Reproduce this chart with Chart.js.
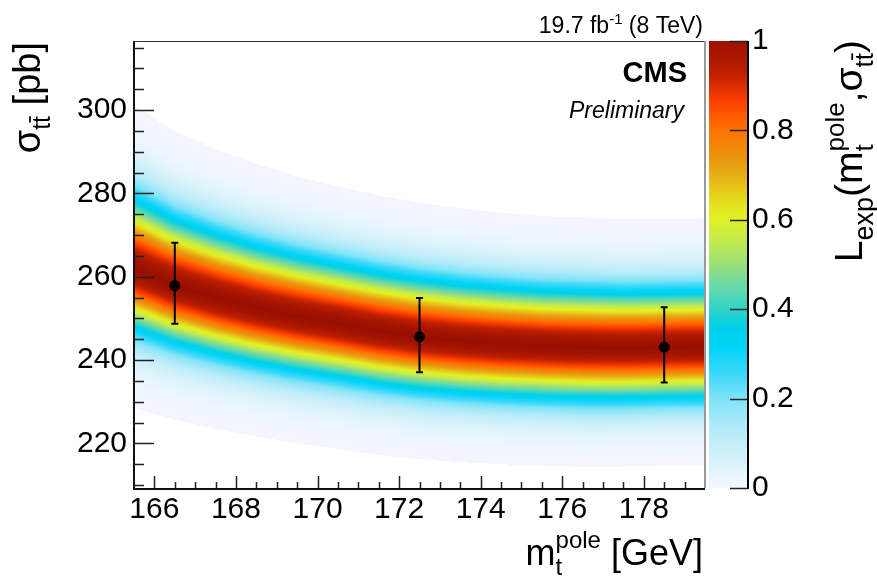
<!DOCTYPE html>
<html><head><meta charset="utf-8">
<script src="https://cdn.jsdelivr.net/npm/chart.js@4.4.0/dist/chart.umd.min.js"></script>
<style>html,body{margin:0;padding:0;background:#fff;}canvas{display:block;}</style>
</head><body>
<canvas id="c" width="877" height="577"></canvas>
<script>
// ---- measured points ----
const pointMt = [166.5, 172.5, 178.5];
const pointSigma = [257.9, 245.6, 243.1];
const pointErrUp = [10.3, 9.3, 9.6];
const pointErrDown = [9.2, 8.5, 8.5];

// ---- likelihood band (centre and upper/lower widths) ----
const bandMt = [165.5, 166.5, 167.5, 168.5, 169.5, 170.5, 171.5, 172.5, 173.5, 174.5, 175.5, 176.5, 177.5, 178.5, 179.5];
const bandCenter = [262.0, 257.9, 255.0, 252.5, 250.5, 248.8, 247.0, 245.6, 244.6, 243.9, 243.4, 243.1, 243.0, 243.1, 243.2];
const bandWidthUp = [11.3, 10.7, 10.3, 10.0, 9.7, 9.5, 9.4, 9.3, 9.2, 9.1, 9.0, 9.0, 8.9, 8.9, 8.9];
const bandWidthDown = [9.7, 9.3, 9.1, 8.9, 8.8, 8.7, 8.6, 8.5, 8.4, 8.35, 8.3, 8.3, 8.25, 8.2, 8.2];
const bandCut = 0.0025;

// ---- axes ----
const xRange = [165.5, 179.5];
const yRange = [209.3, 316.6];
const xMajorTicks = [166, 168, 170, 172, 174, 176, 178];
const yMajorTicks = [220, 240, 260, 280, 300];
const zTicks = [0, 0.2, 0.4, 0.6, 0.8, 1];
const zTickLabels = ['0', '0.2', '0.4', '0.6', '0.8', '1'];

// ---- palette ----
const palStops = [0, 0.02, 0.05, 0.1, 0.14, 0.2, 0.25, 0.315, 0.36, 0.4, 0.443, 0.5, 0.55, 0.6, 0.626, 0.678, 0.73, 0.805, 0.864, 0.924, 1.0];
const palColors = ['#f6f5ff','#ebf6fe','#dcf3fb','#c4eef9','#aeeaf8','#80e4f8','#40d8f8','#00d4f8','#00d0e8','#30d4c8','#60d8b0','#98e078','#c0ec50','#e0f028','#e4e820','#e8c018','#e89a10','#ff7000','#ff4000','#c02000','#9a1000'];
const palRGB = palColors.map(h => [parseInt(h.slice(1,3),16), parseInt(h.slice(3,5),16), parseInt(h.slice(5,7),16)]);
function palette(v) {
  if (v <= 0) return palRGB[0];
  if (v >= 1) return palRGB[palRGB.length-1];
  let i = 0;
  while (i < palStops.length - 2 && v > palStops[i+1]) i++;
  const t = (v - palStops[i]) / (palStops[i+1] - palStops[i]);
  const a = palRGB[i], b = palRGB[i+1];
  return [a[0]+(b[0]-a[0])*t, a[1]+(b[1]-a[1])*t, a[2]+(b[2]-a[2])*t];
}
function lookup(arr, m) {
  if (m <= bandMt[0]) return arr[0];
  const n = bandMt.length;
  if (m >= bandMt[n-1]) return arr[n-1];
  let i = 0;
  while (i < n - 2 && m > bandMt[i+1]) i++;
  const t = (m - bandMt[i]) / (bandMt[i+1] - bandMt[i]);
  return arr[i] + (arr[i+1] - arr[i]) * t;
}

const FONT = '"Liberation Sans", Arial, Helvetica, sans-serif';
function font(size, bold, italic) { return (italic ? 'italic ' : '') + (bold ? 'bold ' : '') + size + 'px ' + FONT; }

function segWidth(ctx, s) {
  if (s.stack) {
    ctx.font = font(s.sub.size); const a = ctx.measureText(s.sub.t).width;
    ctx.font = font(s.sup.size); const b = ctx.measureText(s.sup.t).width;
    return Math.max(a, b);
  }
  ctx.font = font(s.size, s.bold, s.italic);
  return ctx.measureText(s.t).width;
}
function drawSeg(ctx, s, cx) {
  if (s.stack) { drawSeg(ctx, s.sub, cx); drawSeg(ctx, s.sup, cx); return; }
  ctx.font = font(s.size, s.bold, s.italic);
  const dy = s.dy || 0;
  ctx.fillText(s.t, cx, dy);
  if (s.bar) {
    const w = ctx.measureText(s.t).width;
    ctx.beginPath();
    ctx.lineWidth = Math.max(1, s.size * 0.07);
    ctx.moveTo(cx + w * 0.05, dy - s.size * 0.8);
    ctx.lineTo(cx + w * 0.95, dy - s.size * 0.8);
    ctx.stroke();
  }
}
function drawRich(ctx, segs, x, y, align, rot) {
  ctx.save();
  ctx.translate(x, y);
  if (rot) ctx.rotate(-Math.PI / 2);
  ctx.fillStyle = '#000'; ctx.strokeStyle = '#000';
  ctx.textBaseline = 'alphabetic'; ctx.textAlign = 'left';
  const ws = segs.map(s => segWidth(ctx, s));
  const total = ws.reduce((a, b) => a + b, 0);
  let cx = align === 'right' ? -total : 0;
  segs.forEach((s, i) => { drawSeg(ctx, s, cx); cx += ws[i]; });
  ctx.restore();
}

let heatCache = null;
const heatPlugin = {
  id: 'heat',
  beforeDatasetsDraw(chart) {
    const { ctx, chartArea: a, scales } = chart;
    const xs = scales.x, ys = scales.y, zs = scales.z;
    const w = Math.round(a.right - a.left), h = Math.round(a.bottom - a.top);
    if (!heatCache) {
      const off = document.createElement('canvas');
      off.width = w; off.height = h;
      const octx = off.getContext('2d');
      const img = octx.createImageData(w, h);
      for (let i = 0; i < w; i++) {
        const m = xs.getValueForPixel(a.left + i + 0.5);
        const c = lookup(bandCenter, m), su = lookup(bandWidthUp, m), sd = lookup(bandWidthDown, m);
        for (let j = 0; j < h; j++) {
          const v = ys.getValueForPixel(a.top + j + 0.5);
          const d = (v - c) / (v > c ? su : sd);
          const L = Math.exp(-0.5 * d * d);
          const k = (j * w + i) * 4;
          if (L < bandCut) { img.data[k+3] = 0; continue; }
          const col = palette(L);
          img.data[k] = col[0]; img.data[k+1] = col[1]; img.data[k+2] = col[2]; img.data[k+3] = 255;
        }
      }
      octx.putImageData(img, 0, 0);
      heatCache = off;
    }
    ctx.drawImage(heatCache, a.left, a.top);
    // colour bar
    const top = Math.round(zs.getPixelForValue(1)), bot = Math.round(zs.getPixelForValue(0));
    for (let py = top; py < bot; py++) {
      const col = palette(zs.getValueForPixel(py + 0.5));
      ctx.fillStyle = 'rgb(' + col.map(Math.round).join(',') + ')';
      ctx.fillRect(a.right + 4, py, 39, 1);
    }
  },
  afterDatasetsDraw(chart) {
    const { ctx, scales } = chart;
    const xs = scales.x, ys = scales.y;
    ctx.save();
    ctx.strokeStyle = '#000'; ctx.lineWidth = 2;
    pointMt.forEach((m, i) => {
      const px = xs.getPixelForValue(m);
      const t = ys.getPixelForValue(pointSigma[i] + pointErrUp[i]);
      const b = ys.getPixelForValue(pointSigma[i] - pointErrDown[i]);
      ctx.beginPath();
      ctx.moveTo(px, t); ctx.lineTo(px, b);
      ctx.moveTo(px - 3.5, t); ctx.lineTo(px + 3.5, t);
      ctx.moveTo(px - 3.5, b); ctx.lineTo(px + 3.5, b);
      ctx.stroke();
    });
    ctx.restore();
  },
  afterDraw(chart) {
    const { ctx, chartArea: a, scales } = chart;
    const xs = scales.x, ys = scales.y, zs = scales.z;
    ctx.save();
    // frame
    ctx.strokeStyle = '#333'; ctx.lineWidth = 1.2;
    ctx.beginPath(); ctx.moveTo(a.left, a.top + 0.5); ctx.lineTo(a.right, a.top + 0.5); ctx.stroke();
    ctx.strokeStyle = '#999'; ctx.lineWidth = 2;
    ctx.beginPath(); ctx.moveTo(a.right, a.top); ctx.lineTo(a.right, a.bottom); ctx.stroke();
    ctx.strokeStyle = '#111'; ctx.lineWidth = 2;
    ctx.beginPath(); ctx.moveTo(a.left, a.top); ctx.lineTo(a.left, a.bottom + 1); ctx.lineTo(a.right, a.bottom + 1); ctx.stroke();
    // ticks
    ctx.lineWidth = 1.5; ctx.strokeStyle = '#222';
    ctx.beginPath();
    for (let v = 210; v <= 315; v += 5) {
      const py = Math.round(ys.getPixelForValue(v)) + 0.5;
      const len = yMajorTicks.includes(v) ? 20 : 10;
      ctx.moveTo(a.left, py); ctx.lineTo(a.left + len, py);
    }
    for (let v = xRange[0]; v <= xRange[1] + 1e-9; v += 0.5) {
      const px = Math.round(xs.getPixelForValue(v)) + 0.5;
      if (px < a.left + 2 || px > a.right - 2) continue;
      const len = xMajorTicks.includes(v) ? 12 : 6;
      ctx.moveTo(px, a.bottom); ctx.lineTo(px, a.bottom - len);
    }
    const zx = a.right + 43;
    zTicks.forEach(v => {
      const py = Math.round(zs.getPixelForValue(v)) + 0.5;
      ctx.moveTo(zx - 18, py); ctx.lineTo(zx, py);
    });
    ctx.stroke();
    ctx.lineWidth = 2; ctx.strokeStyle = '#000';
    ctx.beginPath(); ctx.moveTo(zx, zs.getPixelForValue(1)); ctx.lineTo(zx, zs.getPixelForValue(0) + 1); ctx.stroke();
    ctx.restore();

    // texts
    drawRich(ctx, [{t:'19.7 fb', size:23}, {t:'-1', size:15, dy:-9}, {t:' (8 TeV)', size:23}], 703, 33, 'right');
    drawRich(ctx, [{t:'CMS', size:29, bold:true}], 687, 82, 'right');
    drawRich(ctx, [{t:'Preliminary', size:23, italic:true}], 684, 118, 'right');
    drawRich(ctx, [{t:'m', size:36}, {stack:true, sub:{t:'t', size:24, dy:10}, sup:{t:'pole', size:24, dy:-17}}, {t:' [GeV]', size:36}], 703, 565, 'right');
    drawRich(ctx, [{t:'σ', size:38}, {t:'t', size:25, dy:10}, {t:'t', size:25, dy:10, bar:true}, {t:' [pb]', size:38}], 40, 42, 'right', true);
    drawRich(ctx, [{t:'L', size:39}, {t:'exp', size:27, dy:11}, {t:'(m', size:39},
      {stack:true, sub:{t:'t', size:26, dy:11}, sup:{t:'pole', size:26, dy:-18}},
      {t:',σ', size:39}, {t:'t', size:26, dy:11}, {t:'t', size:26, dy:11, bar:true}, {t:')', size:39}], 862, 40, 'right', true);
  }
};

function noVPad(s) { s.paddingTop = 0; s.paddingBottom = 0; }
const tickFont = { family: FONT, size: 30 };
new Chart(document.getElementById('c'), {
  type: 'scatter',
  data: { datasets: [{
    data: pointMt.map((m, i) => ({ x: m, y: pointSigma[i] })),
    backgroundColor: '#000', borderColor: '#000', pointRadius: 5.5, pointHoverRadius: 5.5, borderWidth: 0
  }]},
  options: {
    responsive: false, animation: false, events: [],
    layout: { padding: { top: 41, left: 0, right: 0, bottom: 0 } },
    plugins: { legend: { display: false }, tooltip: { enabled: false } },
    scales: {
      x: {
        type: 'linear', min: xRange[0], max: xRange[1],
        grid: { display: false, drawTicks: false }, border: { display: false },
        ticks: { font: tickFont, color: '#000', padding: 4, autoSkip: false, maxRotation: 0,
          callback: v => xMajorTicks.includes(v) ? String(v) : '' },
        afterBuildTicks: s => { const t = []; for (let v = xRange[0]; v <= xRange[1] + 1e-9; v += 0.5) t.push({ value: v }); s.ticks = t; },
        afterFit: s => { s.height = 89; s.paddingLeft = 0; s.paddingRight = 0; }
      },
      y: {
        type: 'linear', position: 'left', min: yRange[0], max: yRange[1],
        grid: { display: false, drawTicks: false }, border: { display: false },
        ticks: { font: tickFont, color: '#000', padding: 7, autoSkip: false,
          callback: v => yMajorTicks.includes(v) ? String(v) : '' },
        afterBuildTicks: s => { s.ticks = yMajorTicks.map(v => ({ value: v })); },
        afterFit: s => { s.width = 134; noVPad(s); }
      },
      z: {
        type: 'linear', position: 'right', axis: 'y', min: 0, max: 1,
        grid: { display: false, drawTicks: false }, border: { display: false },
        ticks: { font: tickFont, color: '#000', padding: 47, autoSkip: false,
          callback: (v, i) => zTickLabels[i] },
        afterBuildTicks: s => { s.ticks = zTicks.map(v => ({ value: v })); },
        afterFit: s => { s.width = 172; noVPad(s); }
      }
    }
  },
  plugins: [heatPlugin]
});
</script>
</body></html>
